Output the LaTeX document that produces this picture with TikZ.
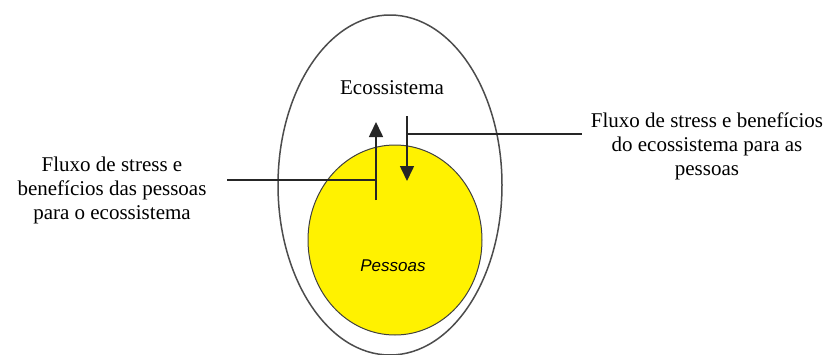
\documentclass[tikz,border=0pt]{standalone}
\usetikzlibrary{shapes.geometric,arrows.meta}
\usepackage{fontspec}
\setmainfont{Liberation Serif}
\newfontfamily\sansit{Liberation Sans}
\begin{document}
\begin{tikzpicture}[x=1pt,y=-1pt,
  lbl/.style={align=center,font=\fontsize{21}{24}\selectfont,inner sep=0pt},
  conn/.style={line width=1.6pt,black!85},
  arr/.style={conn,-{Triangle[length=15pt,width=14pt]}}]
\useasboundingbox[fill=white] (0,0) rectangle (828,354);
\draw[line width=1.5pt,black!70] (390,185) ellipse [x radius=112, y radius=170];
\node[draw=black!75,line width=1pt,fill=yellow,ellipse,minimum width=174pt,minimum height=190pt,inner sep=0pt] (peo) at (395,240) {};
\node[font=\sansit\itshape\fontsize{17}{20}\selectfont] (pl) at (393,266) {Pessoas};
\node[font=\fontsize{21}{25}\selectfont] (eco) at (392,88) {Ecossistema};
\coordinate (ub) at (376,200);
\coordinate (ut) at (376,122);
\coordinate (ul) at (376,180);
\coordinate (db) at (407,181);
\coordinate (dt) at (407,116);
\coordinate (dr) at (407,134);
\node[lbl] (lt) at (112,190) {Fluxo de stress e\\benefícios das pessoas\\para o ecossistema};
\node[lbl] (rt) at (707,146) {Fluxo de stress e benefícios\\do ecossistema para as\\pessoas};
\draw[arr] (ub) -- (ut);
\draw[arr] (dt) -- (db);
\draw[conn] (227,180) -- (ul);
\draw[conn] (dr) -- (582,134);
\end{tikzpicture}
\end{document}
